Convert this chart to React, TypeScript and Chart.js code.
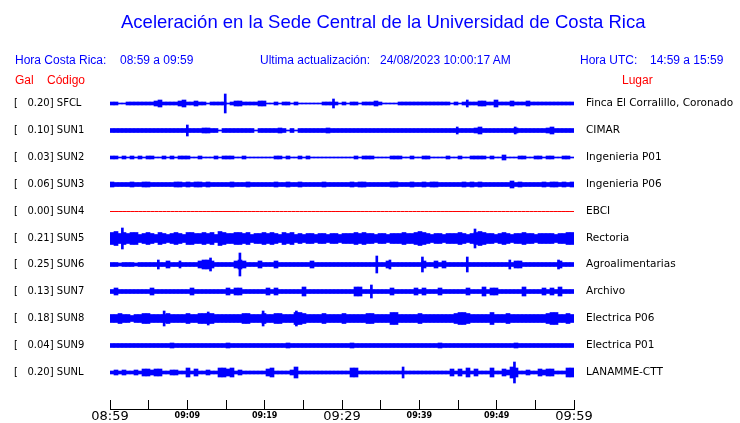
import { useEffect, useRef } from "react";
import { Chart, registerables } from "chart.js";

Chart.register(...registerables);

// ---------- data ----------
const CODES = ["SFCL", "SUN1", "SUN2", "SUN3", "SUN4", "SUN5", "SUN6", "SUN7", "SUN8", "SUN9", "SUNL"];
const PEAK_GAL = ["0.20", "0.10", "0.03", "0.06", "0.00", "0.21", "0.25", "0.13", "0.18", "0.04", "0.20"];
const PLACES = [
  "Finca El Corralillo, Coronado",
  "CIMAR",
  "Ingenieria P01",
  "Ingenieria P06",
  "EBCI",
  "Rectoria",
  "Agroalimentarias",
  "Archivo",
  "Electrica P06",
  "Electrica P01",
  "LANAMME-CTT",
];
const TICK_MINUTES = [0, 5, 10, 15, 20, 25, 30, 35, 40, 45, 50, 55, 60];
const TICK_LABELS = ["08:59", "", "09:09", "", "09:19", "", "09:29", "", "09:39", "", "09:49", "", "09:59"];

// peak-to-peak amplitude envelope, 116 samples over the hour (one every ~31 s)
const SFCL = [3,3,1,1,3,3,3,3,3,3, 3,5,7,3,3,3,3,5,7,3, 3,5,3,3,1,3,3,3,3,1, 3,5,5,3,3,3,3,5,5,1, 1,3,1,3,3,1,3,1,1,1, 1,1,1,3,3,3,3,1,3,1, 3,3,1,3,3,3,5,3,1,1, 1,1,3,3,3,3,3,3,3,3, 3,3,3,3,3,1,3,1,3,3, 3,3,5,5,3,3,7,3,3,3, 5,3,3,3,5,3,3,3,3,3, 3,3,3,3,3,3];
const SUN1 = [4,4,4,4,4,4,4,4,4,4, 4,4,4,4,4,4,4,4,4,4, 4,4,4,5,5,4,4,1,4,4, 4,4,4,4,4,4,1,4,4,4, 4,4,5,4,1,4,1,4,4,4, 4,4,4,4,5,4,4,4,4,4, 4,4,4,4,4,4,4,4,4,4, 4,4,4,4,4,4,4,4,4,4, 4,4,4,4,4,4,4,4,4,4, 4,5,7,4,4,4,4,4,4,4, 4,5,4,4,4,4,4,4,4,5, 7,4,4,4,4,4];
const SUN2 = [3,3,1,3,1,3,1,3,1,3, 3,1,1,3,1,3,1,3,3,3, 1,1,3,1,1,1,3,1,3,3, 3,1,1,3,1,1,1,1,1,1, 1,3,3,1,3,1,1,3,1,3, 1,1,1,1,1,1,1,1,1,1, 1,3,1,3,3,3,1,1,1,1, 3,3,3,1,1,3,1,1,3,3, 1,1,1,1,3,1,1,3,1,1, 3,3,3,3,1,3,1,1,5,1, 1,1,3,3,1,1,3,3,1,3, 3,1,1,3,3,1];
const SUN3 = [5,4,4,4,4,5,4,4,5,5, 4,4,4,4,4,4,5,5,4,5, 4,5,5,4,5,4,4,4,4,4, 5,4,4,4,5,4,4,4,4,4, 4,5,4,4,5,4,4,5,4,4, 4,4,4,5,4,4,4,4,4,4, 5,4,5,5,4,4,4,4,4,4, 5,5,4,4,4,5,4,4,5,4, 5,5,4,4,4,4,4,4,5,4, 5,4,5,4,4,4,4,4,4,4, 7,4,5,4,4,4,4,4,5,4, 5,5,4,5,4,5];
const SUN4 = [0,0,0,0,0,0,0,0,0,0, 0,0,0,0,0,0,0,0,0,0, 0,0,0,0,0,0,0,0,0,0, 0,0,0,0,0,0,0,0,0,0, 0,0,0,0,0,0,0,0,0,0, 0,0,0,0,0,0,0,0,0,0, 0,0,0,0,0,0,0,0,0,0, 0,0,0,0,0,0,0,0,0,0, 0,0,0,0,0,0,0,0,0,0, 0,0,0,0,0,0,0,0,0,0, 0,0,0,0,0,0,0,0,0,0, 0,0,0,0,0,0];
const SUN5 = [12,14,10,12,10,12,12,8,10,12, 10,8,12,10,8,10,12,10,8,12, 12,10,10,12,10,12,8,14,12,10, 10,12,12,10,12,8,10,10,12,10, 12,10,8,12,10,12,8,10,8,10, 10,8,10,10,8,10,10,8,10,10, 10,12,10,12,10,10,8,10,10,8, 10,10,10,12,10,10,12,14,12,10, 8,10,10,8,10,10,10,12,10,8, 10,12,14,12,10,10,8,10,12,10, 8,10,10,12,10,10,8,10,10,10, 10,8,10,10,12,12];
const SUN6 = [4,4,3,4,4,4,3,4,4,4, 4,4,4,4,7,4,4,4,4,4, 4,4,7,9,9,7,4,4,4,4, 4,7,9,7,4,4,4,7,4,4, 4,7,4,4,4,4,4,4,4,4, 7,4,4,4,4,4,4,4,4,4, 4,4,4,4,4,4,4,4,4,7, 4,4,4,4,4,4,4,4,7,4, 4,7,4,7,4,4,4,4,4,4, 4,4,4,4,4,4,4,4,4,4, 4,7,7,4,4,4,4,4,4,4, 4,4,7,4,4,4];
const SUN7 = [4,7,4,4,4,4,4,4,4,4, 7,4,4,4,4,4,4,4,4,4, 7,4,4,4,4,4,4,4,4,7, 4,7,7,4,4,4,4,4,4,7, 4,7,4,4,4,4,4,4,9,4, 4,4,4,4,4,4,4,4,4,4, 4,9,9,4,4,4,4,4,4,4, 7,4,4,4,4,4,7,4,7,4, 4,4,7,4,4,4,4,4,4,7, 4,4,4,9,4,7,7,4,4,4, 4,4,4,9,4,4,4,4,7,4, 7,4,9,4,4,4];
const SUN8 = [8,8,10,8,8,6,8,8,10,10, 8,8,8,8,10,8,8,8,8,10, 8,8,10,10,10,10,8,8,8,8, 8,8,8,10,10,8,8,8,10,8, 8,10,10,8,8,8,12,12,10,8, 8,8,8,10,8,8,8,8,10,8, 8,8,8,8,10,10,8,8,8,8, 12,12,8,8,8,8,8,10,8,8, 8,8,8,8,8,8,10,12,12,10, 8,8,8,8,8,12,8,8,8,10, 8,8,8,8,8,8,8,8,8,10, 12,12,8,8,10,8];
const SUN9 = [4,4,4,4,4,4,4,4,4,4, 4,4,4,4,4,5,4,4,4,4, 4,4,4,4,4,4,4,4,4,5, 4,4,4,4,4,4,4,4,4,4, 4,4,4,4,5,4,4,4,4,4, 4,4,4,4,4,4,4,4,4,4, 5,4,4,4,4,4,4,4,4,4, 4,4,4,4,4,4,4,4,4,4, 4,4,5,4,4,4,4,4,4,4, 4,4,4,4,4,4,4,4,4,4, 4,5,4,4,4,4,4,4,4,4, 4,4,4,4,4,4];
const SUNL = [3,5,3,5,3,3,5,3,7,7, 5,7,7,3,3,5,5,3,3,9, 3,7,3,3,5,3,3,9,9,7, 9,3,5,3,3,3,3,3,3,7, 9,3,3,3,3,5,11,3,3,3, 3,3,3,3,3,3,3,3,3,3, 9,9,3,3,3,3,3,3,3,3, 3,3,3,3,3,3,3,3,3,3, 3,3,3,3,3,7,3,7,3,9, 3,7,3,3,3,9,3,3,7,5, 11,9,3,3,5,3,3,7,5,7, 7,3,3,3,9,9];

// isolated spikes: [minute after 08:59, peak-to-peak]
const SFCL_SPIKES = [[14.9, 19], [28.9, 9], [46.2, 7]];
const SUN1_SPIKES = [[10.0, 11], [44.9, 7], [52.4, 7]];
const SUN2_SPIKES: number[][] = [];
const SUN3_SPIKES: number[][] = [];
const SUN4_SPIKES: number[][] = [];
const SUN5_SPIKES = [[1.6, 21], [47.2, 19]];
const SUN6_SPIKES = [[6.25, 9], [9.05, 7], [13.0, 13], [16.8, 23], [34.5, 17], [36.2, 9], [40.4, 15], [46.2, 15], [51.7, 9], [58.0, 9]];
const SUN7_SPIKES = [[33.8, 13]];
const SUN8_SPIKES = [[7.0, 15], [12.7, 13], [19.8, 15], [24.1, 15]];
const SUN9_SPIKES: number[][] = [];
const SUNL_SPIKES = [[37.9, 11], [52.3, 21]];

const TRACES = [SFCL, SUN1, SUN2, SUN3, SUN4, SUN5, SUN6, SUN7, SUN8, SUN9, SUNL];
const SPIKES = [SFCL_SPIKES, SUN1_SPIKES, SUN2_SPIKES, SUN3_SPIKES, SUN4_SPIKES, SUN5_SPIKES, SUN6_SPIKES, SUN7_SPIKES, SUN8_SPIKES, SUN9_SPIKES, SUNL_SPIKES];

// ---------- layout / style ----------
const W = 740;
const H = 423;
const TOP = 88;
const BOTTOM = 409;
const BLUE = "#0000ff";
const RED = "#ff0000";
const rowCenter = (i: number) => Math.floor(15.5 + 26.9 * i) + 0.5;

export default function App() {
  const ref = useRef<HTMLCanvasElement>(null);

  useEffect(() => {
    const datasets: any[] = [];
    TRACES.forEach((arr, i) => {
      const c = rowCenter(i);
      const step = 60 / arr.length;
      const dead = arr.every((v) => v === 0);
      if (dead) {
        datasets.push({
          type: "line",
          data: arr.map((v, k) => ({ x: (k * 60) / (arr.length - 1), y: c - v })),
          borderColor: RED,
          borderWidth: 1,
          pointRadius: 0,
          fill: false,
          tension: 0,
        });
      } else {
        datasets.push({
          type: "bar",
          data: arr.map((v, k) => ({ x: (k + 0.5) * step, y: [c - v / 2, c + v / 2] })),
          backgroundColor: BLUE,
          barThickness: 4,
          grouped: false,
          borderWidth: 0,
        });
      }
      const sp = SPIKES[i];
      if (sp.length) {
        datasets.push({
          type: "bar",
          data: sp.map(([m, v]) => ({ x: m, y: [c - v / 2, c + v / 2] })),
          backgroundColor: BLUE,
          barThickness: 2,
          grouped: false,
          borderWidth: 0,
        });
      }
    });

    const leftLabels = CODES.map((c, i) => `[   ${PEAK_GAL[i]}] ${c}`);
    const centers = CODES.map((_, i) => rowCenter(i));
    const noPad = (s: any) => {
      s.paddingTop = 0;
      s.paddingBottom = 0;
    };

    const chart = new Chart(ref.current as HTMLCanvasElement, {
      type: "bar",
      data: { datasets },
      options: {
        responsive: false,
        animation: false,
        events: [],
        layout: { padding: { left: 14, top: TOP, right: 0, bottom: 0 } },
        plugins: {
          legend: { display: false },
          tooltip: { enabled: false },
          title: { display: false },
        },
        scales: {
          x: {
            type: "linear",
            position: "bottom",
            min: 0,
            max: 60,
            offset: false,
            grid: {
              display: true,
              offset: false,
              drawOnChartArea: false,
              drawTicks: true,
              tickLength: -9,
              color: "#000",
              lineWidth: 1,
            },
            border: { display: true, color: "#000", width: 1 },
            afterBuildTicks: (s: any) => {
              s.ticks = TICK_MINUTES.map((v) => ({ value: v }));
            },
            afterFit: (s: any) => {
              s.height = H - BOTTOM;
              s.paddingLeft = 0;
              s.paddingRight = 0;
            },
            ticks: {
              autoSkip: false,
              maxRotation: 0,
              minRotation: 0,
              padding: 9,
              color: "#000",
              callback: (_v: any, i: number) => TICK_LABELS[i],
              font: (ctx: any) =>
                ctx.index % 6 === 0
                  ? { family: "DejaVu Sans", size: 13, lineHeight: 1.2 }
                  : { family: "DejaVu Sans", size: 8, weight: "bold", lineHeight: 1.625 },
            },
          },
          y: {
            type: "linear",
            position: "left",
            min: 0,
            max: BOTTOM - TOP,
            reverse: true,
            grid: { display: false, drawTicks: false, tickLength: 0 },
            border: { display: false },
            afterBuildTicks: (s: any) => {
              s.ticks = centers.map((v) => ({ value: v }));
            },
            afterFit: (s: any) => {
              s.width = 96;
              noPad(s);
            },
            ticks: {
              autoSkip: false,
              crossAlign: "far",
              padding: 0,
              color: "#000",
              font: { family: "DejaVu Sans", size: 10 },
              callback: (_v: any, i: number) => leftLabels[i],
            },
          },
          y2: {
            type: "linear",
            position: "right",
            min: 0,
            max: BOTTOM - TOP,
            reverse: true,
            grid: { display: false, drawTicks: false, tickLength: 0 },
            border: { display: false },
            afterBuildTicks: (s: any) => {
              s.ticks = centers.map((v) => ({ value: v }));
            },
            afterFit: (s: any) => {
              s.width = 166;
              noPad(s);
            },
            ticks: {
              autoSkip: false,
              crossAlign: "near",
              padding: 12,
              color: "#000",
              font: { family: "DejaVu Sans", size: 10.5 },
              callback: (_v: any, i: number) => PLACES[i],
            },
          },
        },
      } as any,
    });
    return () => chart.destroy();
  }, []);

  const hdr = { position: "absolute" as const, whiteSpace: "nowrap" as const, font: '12px "Liberation Sans", Arial, sans-serif', lineHeight: "12px" };

  return (
    <div style={{ position: "fixed", left: 0, top: 0, width: W, height: H, background: "#fff", overflow: "hidden" }}>
      <canvas ref={ref} width={W} height={H} style={{ position: "absolute", left: 0, top: 0 }} />
      <div style={{ position: "absolute", left: 121, top: 13, whiteSpace: "nowrap", color: BLUE, font: '18.5px "Liberation Sans", Arial, sans-serif', lineHeight: "18.5px" }}>
        Aceleración en la Sede Central de la Universidad de Costa Rica
      </div>
      <div style={{ ...hdr, left: 15, top: 54, color: BLUE }}>Hora Costa Rica:</div>
      <div style={{ ...hdr, left: 120, top: 54, color: BLUE }}>08:59 a 09:59</div>
      <div style={{ ...hdr, left: 260, top: 54, color: BLUE }}>Ultima actualización:</div>
      <div style={{ ...hdr, left: 380, top: 54, color: BLUE }}>24/08/2023 10:00:17 AM</div>
      <div style={{ ...hdr, left: 580, top: 54, color: BLUE }}>Hora UTC:</div>
      <div style={{ ...hdr, left: 650, top: 54, color: BLUE }}>14:59 a 15:59</div>
      <div style={{ ...hdr, left: 15, top: 74, color: RED }}>Gal</div>
      <div style={{ ...hdr, left: 47, top: 74, color: RED }}>Código</div>
      <div style={{ ...hdr, left: 622, top: 74, color: RED }}>Lugar</div>
    </div>
  );
}
